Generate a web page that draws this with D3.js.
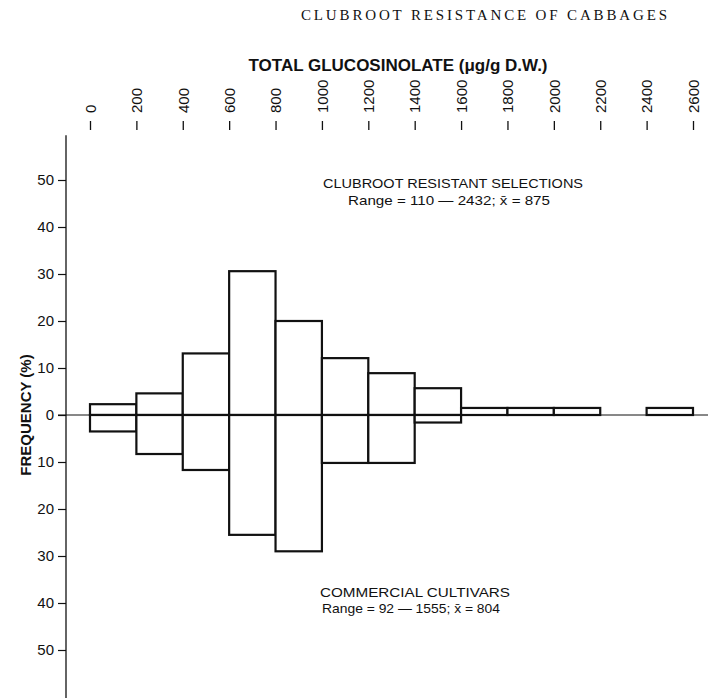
<!DOCTYPE html>
<html>
<head>
<meta charset="utf-8">
<script src="https://cdn.jsdelivr.net/npm/d3@7"></script>
<style>
  body { margin: 0; background: #fff; }
  text { font-family: "Liberation Sans", Arial, sans-serif; fill: #111; }
</style>
</head>
<body>
<div id="chart"></div>
<script>
// bins of 200 ug/g starting at 0
const binStarts = [0, 200, 400, 600, 800, 1000, 1200, 1400, 1600, 1800, 2000, 2200, 2400]
// frequency (%) of clubroot resistant selections (drawn above zero)
const resistant = [2.3, 4.6, 13.1, 30.6, 20.0, 12.1, 8.9, 5.7, 1.5, 1.5, 1.5, 0, 1.5]
// frequency (%) of commercial cultivars (drawn below zero)
const commercial = [3.5, 8.3, 11.7, 25.5, 29.0, 10.2, 10.2, 1.6, 0, 0, 0, 0, 0]
const xTicks = [0, 200, 400, 600, 800, 1000, 1200, 1400, 1600, 1800, 2000, 2200, 2400, 2600]
const yTicks = [-50, -40, -30, -20, -10, 0, 10, 20, 30, 40, 50]

const svgWidth = 708
const svgHeight = 698

const svg = d3.select('#chart')
    .append('svg')
    .attr('width', svgWidth)
    .attr('height', svgHeight)

// scales
const x = d3.scaleLinear().domain([0, 2600]).range([90, 693])
const y = d3.scaleLinear().domain([-50, 50]).range([650, 180])
const binW = 200

// titles
svg.append('text')
    .attr('x', 301).attr('y', 20)
    .attr('textLength', 366).attr('lengthAdjust', 'spacing')
    .style('font-family', '"Liberation Serif", "Times New Roman", serif')
    .style('font-size', '15px')
    .text('CLUBROOT RESISTANCE OF CABBAGES')

svg.append('text')
    .attr('x', 398).attr('y', 71)
    .attr('text-anchor', 'middle')
    .style('font-size', '17px')
    .style('font-weight', 'bold')
    .text('TOTAL GLUCOSINOLATE (\u03bcg/g D.W.)')

// top axis
const xAxis = d3.axisTop(x).tickValues(xTicks).tickSize(9).tickFormat(d3.format('d'))
const gx = svg.append('g')
    .attr('transform', 'translate(0,130)')
    .call(xAxis)
gx.select('.domain').remove()
gx.selectAll('.tick line').attr('stroke', '#111').attr('stroke-width', 1.3)
gx.selectAll('.tick text')
    .attr('transform', 'rotate(-90)')
    .attr('x', 17).attr('y', 0).attr('dy', '0.35em')
    .attr('text-anchor', 'start')
    .style('font-size', '15px')
    .style('font-family', '"Liberation Sans", Arial, sans-serif')

// left axis
const yAxis = d3.axisLeft(y).tickValues(yTicks).tickSize(8).tickFormat(d => Math.abs(d))
const gy = svg.append('g')
    .attr('transform', 'translate(66,0)')
    .call(yAxis)
gy.select('.domain').remove()
gy.selectAll('.tick line').attr('stroke', '#111').attr('stroke-width', 1.2)
gy.selectAll('.tick text')
    .attr('x', -12)
    .style('font-size', '15px')
    .style('font-family', '"Liberation Sans", Arial, sans-serif')

svg.append('line')
    .attr('x1', 66).attr('x2', 66)
    .attr('y1', y(59.5)).attr('y2', y(-61))
    .attr('stroke', '#111').attr('stroke-width', 1.3)

svg.append('text')
    .attr('transform', `translate(31,${y(0)}) rotate(-90)`)
    .attr('text-anchor', 'middle')
    .style('font-size', '15px')
    .style('font-weight', 'bold')
    .text('FREQUENCY (%)')

// bars
const bars = binStarts.map((b, i) => ({ b, up: resistant[i], down: commercial[i] }))

svg.selectAll('.up')
    .data(bars.filter(d => d.up > 0))
    .join('rect')
    .attr('class', 'up')
    .attr('x', d => x(d.b))
    .attr('width', d => x(d.b + binW) - x(d.b))
    .attr('y', d => y(d.up))
    .attr('height', d => y(0) - y(d.up))
    .attr('fill', 'white')
    .attr('stroke', '#111')
    .attr('stroke-width', 2.2)

svg.selectAll('.down')
    .data(bars.filter(d => d.down > 0))
    .join('rect')
    .attr('class', 'down')
    .attr('x', d => x(d.b))
    .attr('width', d => x(d.b + binW) - x(d.b))
    .attr('y', y(0))
    .attr('height', d => y(-d.down) - y(0))
    .attr('fill', 'white')
    .attr('stroke', '#111')
    .attr('stroke-width', 2.2)

// zero line
svg.append('line')
    .attr('x1', 58).attr('x2', svgWidth)
    .attr('y1', y(0)).attr('y2', y(0))
    .attr('stroke', '#111').attr('stroke-width', 1)

// annotations (baseline given in chart units)
const notes = [
    { t: 'CLUBROOT RESISTANT SELECTIONS', x0: 323, len: 260, v: 48.3 },
    { t: 'Range = 110 \u2014 2432; x\u0304 = 875', x0: 348, len: 202, v: 44.7 },
    { t: 'COMMERCIAL CULTIVARS', x0: 320, len: 190, v: -38.7 },
    { t: 'Range = 92 \u2014 1555; x\u0304 = 804', x0: 322, len: 178, v: -42.1 }
]
svg.selectAll('.note')
    .data(notes)
    .join('text')
    .attr('class', 'note')
    .attr('x', d => d.x0)
    .attr('y', d => y(d.v))
    .attr('textLength', d => d.len)
    .attr('lengthAdjust', 'spacingAndGlyphs')
    .style('font-size', '13px')
    .text(d => d.t)
</script>
</body>
</html>
